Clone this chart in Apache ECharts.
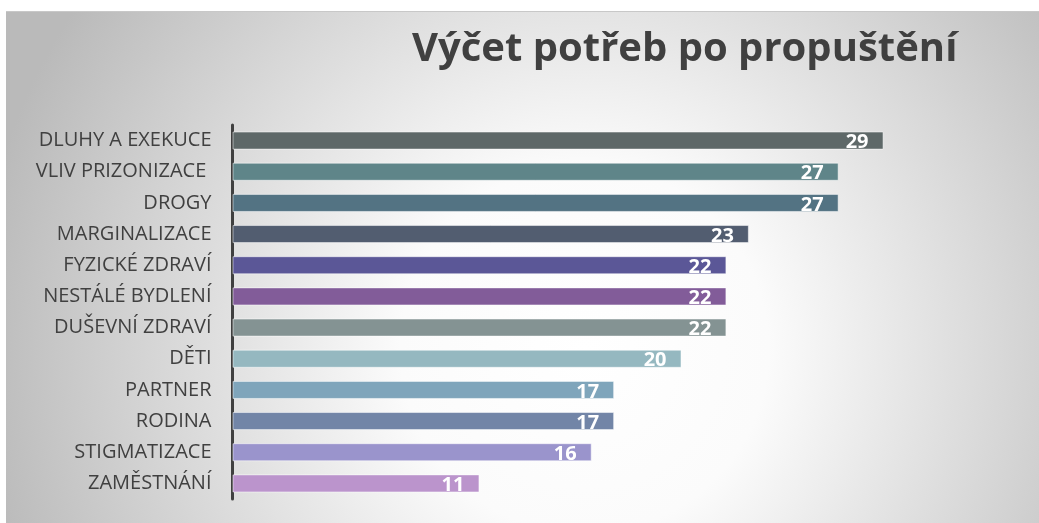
<!DOCTYPE html>
<html>
<head>
<meta charset="utf-8">
<script src="https://cdn.jsdelivr.net/npm/echarts@6/dist/echarts.min.js"></script>
<style>
  html, body { margin: 0; padding: 0; background: #fff; }
  #chart {
    position: absolute; left: 6px; top: 11px; width: 1033px; height: 512px;
    border-top: 1px solid #c8c8c8; box-sizing: border-box;
  }
</style>
</head>
<body>
<div id="chart"></div>
<script>
var categories = ['DLUHY A EXEKUCE', 'VLIV PRIZONIZACE ', 'DROGY', 'MARGINALIZACE', 'FYZICKÉ ZDRAVÍ',
    'NESTÁLÉ BYDLENÍ', 'DUŠEVNÍ ZDRAVÍ', 'DĚTI', 'PARTNER', 'RODINA', 'STIGMATIZACE', 'ZAMĚSTNÁNÍ'];
var values = [29, 27, 27, 23, 22, 22, 22, 20, 17, 17, 16, 11];
var barColors = ['#5e6868', '#5f8589', '#537383', '#525d70', '#5b5797', '#825c99',
    '#849393', '#95b8c0', '#7fa5bb', '#7285a7', '#9a94cc', '#bb94cc'];

var dom = document.getElementById('chart');
var myChart = echarts.init(dom);
var option = null;

var barData = [];
for (var i = 0; i < values.length; i++) {
    barData.push({
        value: values[i],
        itemStyle: { color: barColors[i] }
    });
}

option = {
    animation: false,
    backgroundColor: {
        type: 'radial',
        x: 0.56,
        y: 0.66,
        r: 1.2,
        colorStops: [
            { offset: 0, color: '#ffffff' },
            { offset: 0.3, color: '#fbfbfb' },
            { offset: 1, color: '#bababa' }
        ]
    },
    title: {
        text: 'Výčet potřeb po propuštění',
        left: 401,
        top: 13,
        textStyle: {
            fontFamily: 'Open Sans',
            fontWeight: 'bold',
            fontSize: 40,
            color: '#404040'
        }
    },
    grid: {
        left: 226.5,
        right: 133,
        top: 113,
        bottom: 24
    },
    xAxis: {
        type: 'value',
        min: 0,
        max: 30,
        show: false
    },
    yAxis: {
        type: 'category',
        inverse: true,
        data: categories,
        axisLine: {
            show: true,
            lineStyle: { color: '#404040', width: 3 }
        },
        axisTick: { show: false },
        axisLabel: {
            margin: 21,
            fontFamily: 'Open Sans',
            fontSize: 20,
            color: '#404040'
        }
    },
    series: [{
        type: 'bar',
        data: barData,
        barCategoryGap: '42%',
        itemStyle: {
            borderColor: 'rgba(255,255,255,0.5)',
            borderWidth: 1
        },
        label: {
            show: true,
            position: 'insideRight',
            distance: 15,
            offset: [0, 2],
            color: '#fff',
            fontFamily: 'Open Sans',
            fontWeight: 'bold',
            fontSize: 20
        }
    }]
};

if (option && typeof option === 'object') {
    myChart.setOption(option, true);
}
window.onresize = function() {
    myChart.resize();
};
</script>
</body>
</html>
